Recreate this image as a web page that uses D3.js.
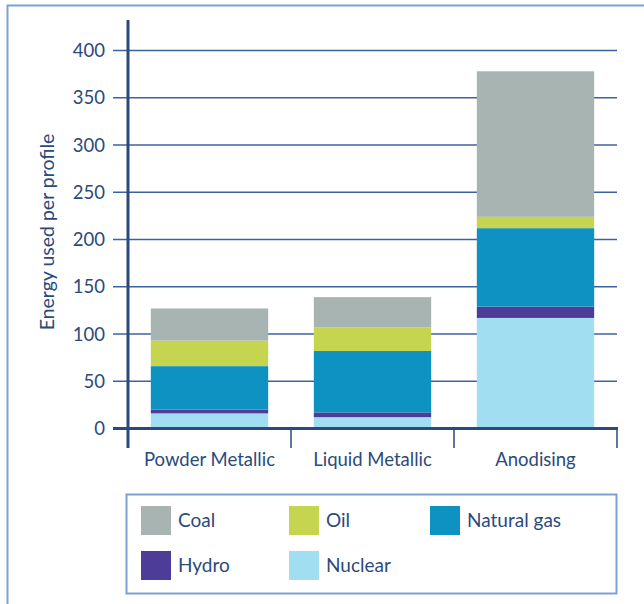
<!DOCTYPE html>
<html>
<head>
<meta charset="utf-8">
<script src="https://cdn.jsdelivr.net/npm/d3@7"></script>
<style>
  html, body { margin: 0; padding: 0; background: #ffffff; }
  svg { display: block; }
  text { font-family: Lato, "Open Sans", sans-serif; fill: #2b4a7c; }
</style>
</head>
<body>
<svg id="chart" width="644" height="604"></svg>
<script>
// Energy used per profile, by production process and energy source
const categories = ["Powder Metallic", "Liquid Metallic", "Anodising"];
const sources = ["Nuclear", "Hydro", "Natural gas", "Oil", "Coal"];
const nuclear    = [16, 12, 117];
const hydro      = [4, 5, 12];
const naturalGas = [46, 65, 83];
const oil        = [27, 25, 12];
const coal       = [34, 32, 154];
const yTicks = [0, 50, 100, 150, 200, 250, 300, 350, 400];
const legendOrder = ["Coal", "Oil", "Natural gas", "Hydro", "Nuclear"];

const colors = {
  "Coal": "#a8b4b1",
  "Oil": "#c6d54f",
  "Natural gas": "#0e92c2",
  "Hydro": "#4d3c98",
  "Nuclear": "#a1def2"
};

const seriesValues = {
  "Nuclear": nuclear, "Hydro": hydro, "Natural gas": naturalGas, "Oil": oil, "Coal": coal
};
const rows = categories.map((c, i) => {
  const r = { category: c };
  sources.forEach(s => r[s] = seriesValues[s][i]);
  return r;
});

const svg = d3.select("#chart");
const navy = "#2b4a7c";
const frame = "#7aa2d2";

// outer frame (open to the right and bottom)
svg.append("path")
  .attr("d", "M7.5,604 L7.5,5.5 L644,5.5")
  .attr("fill", "none").attr("stroke", frame).attr("stroke-width", 2);

const x0 = 128, x1 = 617, yTop = 20;
const y = d3.scaleLinear().domain([0, 400]).range([428.5, 50.5]);
const x = d3.scaleBand().domain(categories).range([x0, x1])
  .paddingInner(0.28).paddingOuter(0.14);

// horizontal gridlines with left ticks
svg.append("g").selectAll("line").data(yTicks.filter(d => d > 0)).join("line")
  .attr("x1", 113).attr("x2", x1)
  .attr("y1", d => y(d)).attr("y2", d => y(d))
  .attr("stroke", "#3d62a0").attr("stroke-width", 1.5);

// stacked bars
const stack = d3.stack().keys(sources);
const layers = stack(rows);
svg.append("g").selectAll("g").data(layers).join("g")
  .attr("fill", d => colors[d.key])
  .selectAll("rect").data(d => d).join("rect")
  .attr("x", d => x(d.data.category))
  .attr("width", x.bandwidth())
  .attr("y", d => y(d[1]))
  .attr("height", d => y(d[0]) - y(d[1]));

// baseline and category dividers
svg.append("line")
  .attr("x1", 113).attr("x2", x1 + 1)
  .attr("y1", y(0)).attr("y2", y(0))
  .attr("stroke", navy).attr("stroke-width", 3);
const dividers = categories.map(c => x(c) + x.bandwidth() + x.step() * 0.14);
svg.append("g").selectAll("line").data(dividers).join("line")
  .attr("x1", d => d).attr("x2", d => d)
  .attr("y1", y(0)).attr("y2", 448)
  .attr("stroke", navy).attr("stroke-width", 1.5);

// vertical axis line
svg.append("line")
  .attr("x1", x0).attr("x2", x0)
  .attr("y1", yTop).attr("y2", 448)
  .attr("stroke", navy).attr("stroke-width", 3);

// y tick labels
svg.append("g").selectAll("text").data(yTicks).join("text")
  .attr("x", 105).attr("y", d => y(d) + 6.5)
  .attr("text-anchor", "end")
  .style("font-size", "18.5px")
  .text(d => d);

// y axis title
svg.append("text")
  .attr("transform", "translate(54,232) rotate(-90)")
  .attr("text-anchor", "middle")
  .style("font-size", "19.5px")
  .text("Energy used per profile");

// category labels
svg.append("g").selectAll("text").data(categories).join("text")
  .attr("x", d => x(d) + x.bandwidth() / 2)
  .attr("y", 466)
  .attr("text-anchor", "middle")
  .style("font-size", "18.5px")
  .text(d => d);

// legend
svg.append("rect")
  .attr("x", 126.5).attr("y", 494.5).attr("width", 490).attr("height", 99)
  .attr("fill", "none").attr("stroke", frame).attr("stroke-width", 2);
const legendPos = [
  [141, 506], [289, 506], [430, 506],
  [141, 551], [289, 551]
];
const lg = svg.append("g").selectAll("g").data(legendOrder).join("g")
  .attr("transform", (d, i) => `translate(${legendPos[i][0]},${legendPos[i][1]})`);
lg.append("rect").attr("width", 30).attr("height", 29).attr("fill", d => colors[d]);
lg.append("text").attr("x", 37).attr("y", 21)
  .style("font-size", "19px").text(d => d);
</script>
</body>
</html>
